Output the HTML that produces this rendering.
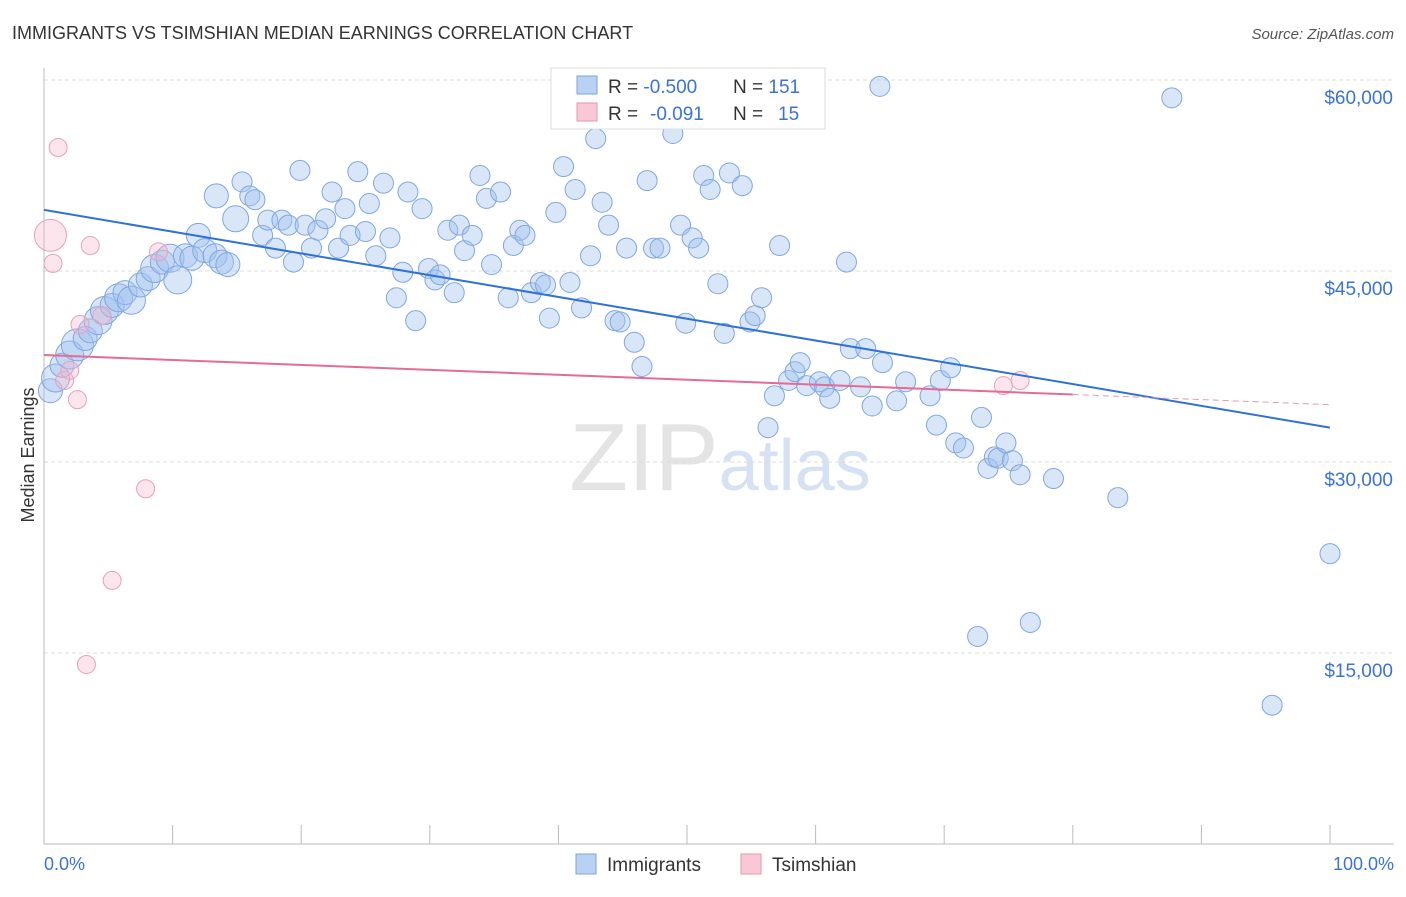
<!DOCTYPE html>
<html><head><meta charset="utf-8"><style>
body{margin:0;background:#fff;font-family:"Liberation Sans",sans-serif}
svg text{font-family:"Liberation Sans",sans-serif}
</style></head><body>
<svg id="c" width="1406" height="892">
<text x="12" y="39" font-size="18" fill="#333">IMMIGRANTS VS TSIMSHIAN MEDIAN EARNINGS CORRELATION CHART</text>
<text x="1394" y="39" font-size="15" fill="#555" font-style="italic" text-anchor="end">Source: ZipAtlas.com</text>
<text x="720" y="490" font-size="96" fill="#e4e4e4" text-anchor="middle" font-family="Liberation Serif">ZIP<tspan fill="#d6e2f3" font-family="Liberation Sans" font-size="72">atlas</tspan></text>
<g id="grid"></g><g id="axes"></g><g id="pts"></g><g id="lines"></g>
<text transform="translate(34,455) rotate(-90)" font-size="18" fill="#333" text-anchor="middle">Median Earnings</text>
<text x="44" y="870" font-size="18" fill="#3a73d4">0.0%</text>
<text x="1394" y="870" font-size="18" fill="#3a73d4" text-anchor="end">100.0%</text>
<g>
<rect x="551" y="68" width="274" height="61" fill="#fff" stroke="#ddd"/>
<rect x="577" y="76" width="20" height="18" fill="#b9d1f3" stroke="#7aa3e0"/>
<rect x="577" y="103" width="20" height="18" fill="#f9c8d6" stroke="#e996b1"/>
<text x="608" y="93" font-size="19" fill="#333">R = <tspan fill="#3a73d4">-0.500</tspan><tspan x="733">N = </tspan><tspan fill="#3a73d4">151</tspan></text>
<text x="608" y="120" font-size="19" fill="#333">R = <tspan fill="#3a73d4" x="650">-0.091</tspan><tspan x="733">N = </tspan><tspan fill="#3a73d4" x="778">15</tspan></text>
</g>
<g>
<rect x="576" y="854" width="20" height="20" fill="#b9d1f3" stroke="#7aa3e0"/>
<text x="607" y="871" font-size="19" fill="#333">Immigrants</text>
<rect x="741" y="854" width="20" height="20" fill="#f9c8d6" stroke="#e996b1"/>
<text x="772" y="871" font-size="19" fill="#333">Tsimshian</text>
</g>
</svg>
<script>
const yTicks=[15000,30000,45000,60000];
const yTickLabels=["$15,000","$30,000","$45,000","$60,000"];
const blueX=[0.5,0.9,1.4,2.0,2.6,3.2,3.6,4.2,4.7,5.3,5.8,6.3,6.8,7.5,8.1,8.6,9.2,9.8,10.4,11.0,11.5,12.0,12.5,13.3,13.8,14.3,13.4,14.9,15.4,16.0,16.4,17.0,17.4,18.0,18.5,19.0,19.4,19.9,20.3,20.8,21.3,21.9,22.4,22.9,23.4,23.8,24.4,25.0,25.3,25.8,26.4,26.9,27.4,27.9,28.3,28.9,29.4,29.9,30.4,30.8,31.4,31.9,32.3,32.7,33.3,33.9,34.4,34.8,35.5,36.1,36.5,37.0,37.4,37.9,38.6,39.0,39.3,39.8,40.4,40.9,41.3,41.8,42.5,42.9,43.4,43.9,44.4,44.8,45.3,45.9,46.5,46.9,47.4,47.9,48.9,49.5,49.9,50.4,50.9,51.3,51.8,52.4,52.9,53.3,54.3,54.9,55.3,55.8,56.3,56.8,57.2,57.9,58.4,58.8,59.3,60.3,60.7,61.1,61.9,62.4,62.7,63.5,63.9,64.4,65.0,65.2,66.3,67.0,68.9,69.4,69.7,70.5,70.9,71.5,72.9,72.6,73.4,73.9,74.2,74.8,75.3,75.9,76.7,78.5,83.5,87.7,95.5,100];
const blueY=[35600,36600,37600,38400,39200,39700,40300,41100,41900,42300,42900,43300,42700,43900,44400,45200,45700,46000,44300,46200,46000,47800,46600,46200,45700,45500,50900,49100,52000,50900,50600,47800,49000,46800,49000,48600,45700,52900,48600,46800,48200,49100,51200,46800,49900,47800,52800,48100,50300,46200,51900,47600,42900,44900,51200,41100,49900,45200,44300,44700,48200,43300,48600,46600,47800,52500,50700,45500,51200,42900,47000,48200,47800,43300,44100,43900,41300,49600,53200,44100,51400,42100,46200,55400,50400,48600,41100,41000,46800,39400,37500,52100,46800,46800,55800,48600,40900,47600,46800,52500,51400,44000,40100,52700,51700,41000,41500,42900,32700,35200,47000,36400,37100,37800,36000,36300,35900,35000,36400,45700,38900,35900,38900,34400,59500,37800,34800,36300,35200,32900,36400,37400,31500,31100,33500,16300,29500,30400,30300,31500,30100,29000,17400,28700,27200,58600,10900,22800];
const blueSize=[12,14,12,14,16,12,12,14,14,12,14,12,14,12,12,14,12,14,14,12,12,12,12,12,12,12,12,13];
const pinkX=[0.5,0.7,1.1,3.6,2.6,1.6,2.0,7.9,5.3,3.3,8.9,2.8,74.6,75.9,4.5];
const pinkY=[47800,45600,54700,47000,34900,36400,37200,27900,20700,14100,46500,40800,36000,36400,41500];
const pinkSize=[16,9,9,9,9,9,9,9,9,9,9,9,9,9,9];
const blueTrend=[49800,32700];
const pinkTrend=[38400,35300,34500];
const pinkTrendEndPct=80;
const NS="http://www.w3.org/2000/svg";
const X0=44,X1=1330,Y0=844,Ytop=80;
const xs=p=>X0+(X1-X0)*p/100;
const ys=v=>Y0-(Y0-Ytop)*v/60000;
function mk(t,parent){const e=document.createElementNS(NS,t);document.getElementById(parent).appendChild(e);return e;}
yTicks.forEach((v,i)=>{
 const l=mk('line','grid');
 
 
 l.setAttribute('x1',X0);l.setAttribute('x2',1394);l.setAttribute('y1',ys(v));l.setAttribute('y2',ys(v));
 l.setAttribute('stroke','#ddd');l.setAttribute('stroke-dasharray','4,3');
 const t=mk('text','grid');
 
 
 t.setAttribute('x',1393);t.setAttribute('y',ys(v)+24);t.setAttribute('text-anchor','end');
 t.setAttribute('font-size','19');t.setAttribute('fill','#3a73d4');t.textContent=yTickLabels[i];
});
const ax=mk('path','axes');


ax.setAttribute('d',`M${X0} 68V${Y0}H1394`);ax.setAttribute('stroke','#bbb');ax.setAttribute('fill','none');
for(let i=1;i<=10;i++){const t=mk('line','axes');
 
 
 t.setAttribute('x1',xs(i*10));t.setAttribute('x2',xs(i*10));t.setAttribute('y1',Y0);t.setAttribute('y2',Y0-19);t.setAttribute('stroke','#bbb');}
blueX.forEach((p,i)=>{const c=mk('circle','pts');
 
 
 c.setAttribute('cx',xs(p));c.setAttribute('cy',ys(blueY[i]));c.setAttribute('r',blueSize[i]||10);
 c.setAttribute('fill','rgba(160,192,238,0.4)');c.setAttribute('stroke','#7fa7e2');c.setAttribute('stroke-width','1');});
pinkX.forEach((p,i)=>{const c=mk('circle','pts');
 
 
 c.setAttribute('cx',xs(p));c.setAttribute('cy',ys(pinkY[i]));c.setAttribute('r',pinkSize[i]);
 c.setAttribute('fill','rgba(245,180,204,0.35)');c.setAttribute('stroke','#eaa0ba');c.setAttribute('stroke-width','1');});
const bl=mk('line','lines');


bl.setAttribute('x1',xs(0));bl.setAttribute('y1',ys(blueTrend[0]));bl.setAttribute('x2',xs(100));bl.setAttribute('y2',ys(blueTrend[1]));
bl.setAttribute('stroke','#2f72d6');bl.setAttribute('stroke-width','2');
const pl=mk('line','lines');


pl.setAttribute('x1',xs(0));pl.setAttribute('y1',ys(pinkTrend[0]));pl.setAttribute('x2',xs(pinkTrendEndPct));pl.setAttribute('y2',ys(pinkTrend[1]));
pl.setAttribute('stroke','#e56b95');pl.setAttribute('stroke-width','2');
const pd=mk('line','lines');


pd.setAttribute('x1',xs(pinkTrendEndPct));pd.setAttribute('y1',ys(pinkTrend[1]));pd.setAttribute('x2',xs(100));pd.setAttribute('y2',ys(pinkTrend[2]));
pd.setAttribute('stroke','#e996b1');pd.setAttribute('stroke-width','1');pd.setAttribute('stroke-dasharray','6,4');
</script>
</body></html>
